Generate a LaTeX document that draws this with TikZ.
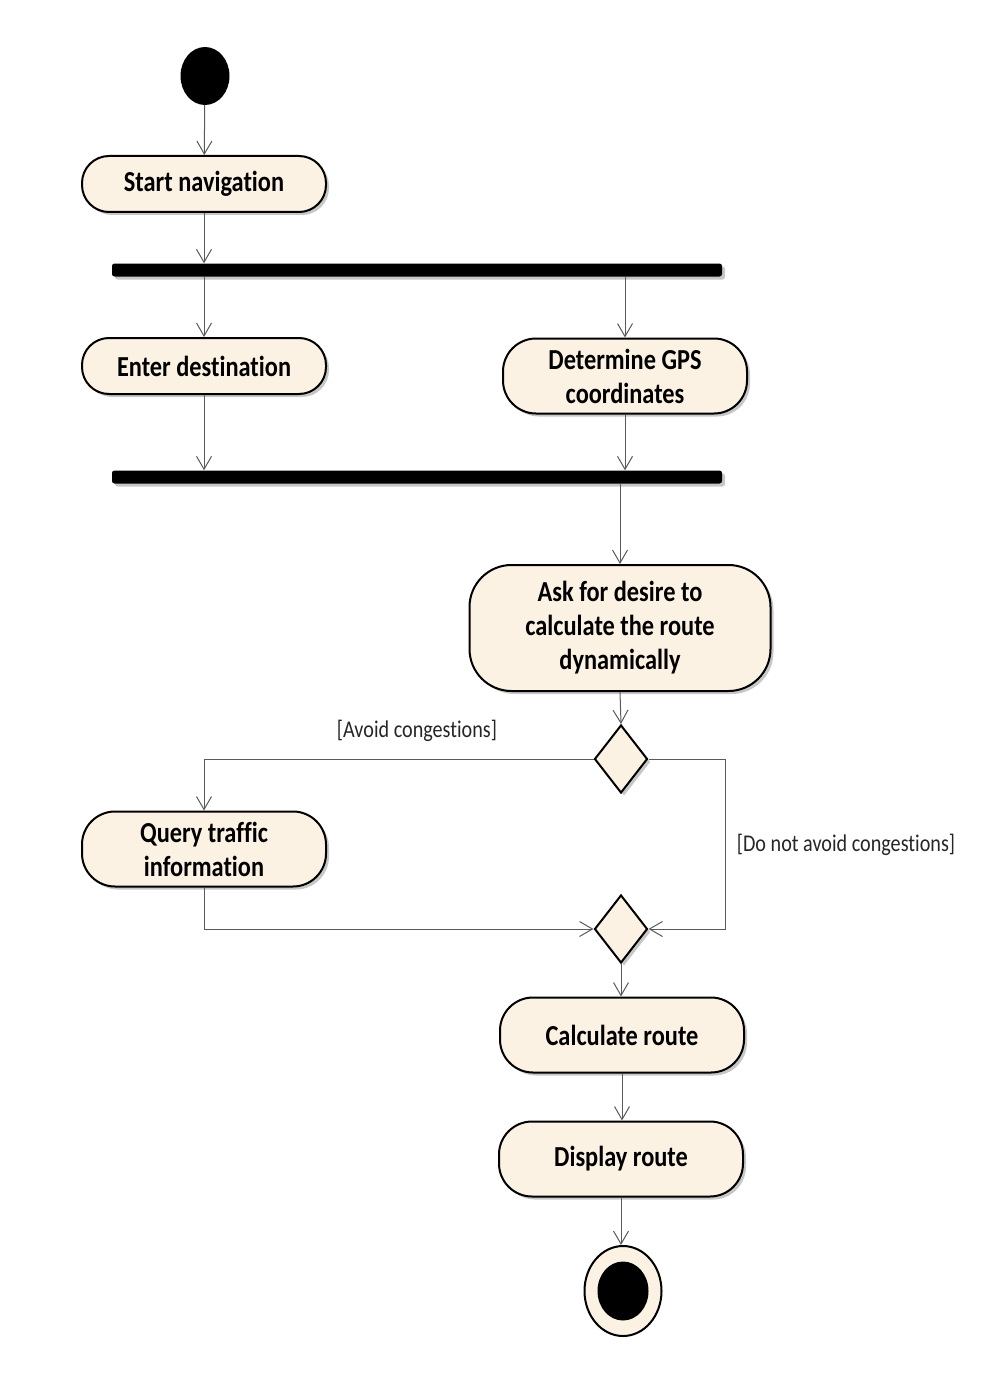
\documentclass[tikz,border=0pt]{standalone}
\usepackage{fontspec}
\setmainfont{Carlito}[FakeStretch=0.84,Ligatures=NoCommon]
\usetikzlibrary{arrows.meta,shapes.geometric,shadows}
\definecolor{nodefill}{RGB}{252,242,227}
\definecolor{linegray}{RGB}{90,90,90}
\begin{document}
\begin{tikzpicture}[x=1pt,y=-1pt,
  shade1/.style={drop shadow={shadow xshift=3pt,shadow yshift=-3pt,fill=black,opacity=0.22}},
  action/.style={draw=black,line width=2pt,fill=nodefill,rounded corners=27pt,
    minimum width=244pt,minimum height=56pt,inner sep=0pt,align=center,
    font=\fontsize{29}{34}\selectfont\bfseries,shade1},
  tallaction/.style={action,minimum height=75pt,rounded corners=33pt},
  forkbar/.style={fill=black,rounded corners=2.5pt,minimum width=610pt,minimum height=13pt,inner sep=0pt,shade1},
  decision/.style={diamond,draw=black,line width=2pt,fill=nodefill,minimum width=53pt,minimum height=68pt,inner sep=0pt,shade1},
  startc/.style={ellipse,fill=black,minimum width=49pt,minimum height=58pt,inner sep=0pt},
  finalo/.style={ellipse,draw=black,line width=2pt,fill=nodefill,minimum width=77pt,minimum height=90pt,inner sep=0pt},
  finali/.style={ellipse,fill=black,minimum width=51pt,minimum height=59pt,inner sep=0pt},
  guard/.style={font=\fontsize{24}{28}\selectfont,text=black!85,inner sep=0pt},
  arr/.style={draw=linegray,line width=1pt,-{Straight Barb[length=13pt,width=15pt]}}
]
\useasboundingbox (0,0) rectangle (1008,1388);

\node[startc] (start) at (205,76) {};
\node[action] (startnav) at (204,184) {Start navigation};
\node[forkbar] (bar1) at (417,270) {};
\node[action] (enter) at (204,366) {Enter destination};
\node[tallaction] (gps) at (625,376) {Determine GPS\\coordinates};
\node[forkbar] (bar2) at (417,477) {};
\node[action,minimum width=301pt,minimum height=126pt,rounded corners=42pt] (ask) at (620,628) {Ask for desire to\\calculate the route\\dynamically};
\node[decision] (d1) at (621,759) {};
\node[tallaction] (query) at (204,849) {Query traffic\\information};
\node[decision] (d2) at (621,929) {};
\node[tallaction] (calc) at (622,1035) {Calculate route};
\node[tallaction] (disp) at (621,1159) {Display route};
\node[finalo] (endo) at (623,1291) {};
\node[finali] (endi) at (endo) {};

\node[guard] (g1) at (417,731) {[Avoid congestions]};
\node[guard] (g2) at (846,845) {[Do not avoid congestions]};
\coordinate (rc) at (725,929);

\draw[arr] (start) -- (startnav);
\draw[arr] (startnav.south) -- (startnav.south |- bar1.north);
\draw[arr] (enter.north |- bar1.south) -- (enter.north);
\draw[arr] (gps.north |- bar1.south) -- (gps.north);
\draw[arr] (enter.south) -- (enter.south |- bar2.north);
\draw[arr] (gps.south) -- (gps.south |- bar2.north);
\draw[arr] (ask.north |- bar2.south) -- (ask.north);
\draw[arr] (ask.south) -- (d1.north);
\draw[arr] (d1.west) -| (query.north);
\draw[arr] (d1.east) -| (rc) -- (d2.east);
\draw[arr] (query.south) |- (d2.west);
\draw[arr] (d2.south) -- (d2.south |- calc.north);
\draw[arr] (calc.south) -- (calc.south |- disp.north);
\draw[arr] (disp.south) -- (disp.south |- endo.north);
\end{tikzpicture}
\end{document}
